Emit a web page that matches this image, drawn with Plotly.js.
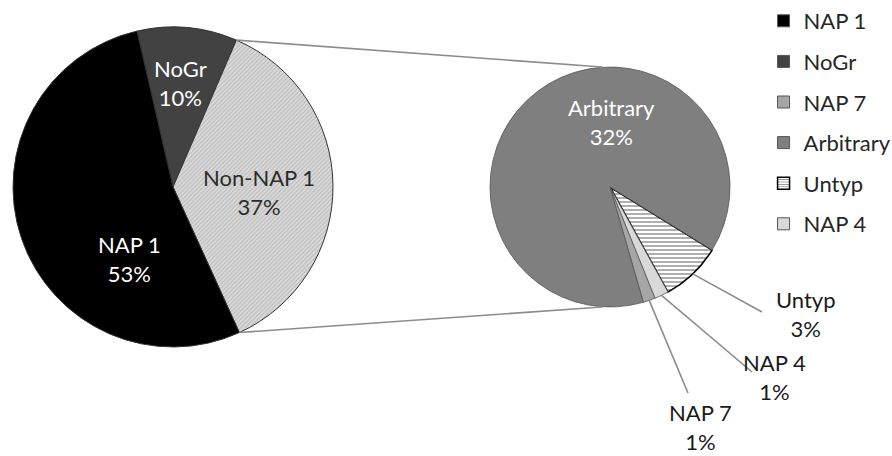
<!DOCTYPE html>
<html><head><meta charset="utf-8">
<script src="https://cdn.plot.ly/plotly-3.0.1.min.js"></script>
<style>html,body{margin:0;padding:0;background:#fff}</style>
</head><body><div id="chart" style="width:892px;height:456px"></div>
<script>
// ---- data ----
const mainLabels = ['NoGr', 'Non-NAP 1', 'NAP 1'];
const mainValues = [10.1, 36.7, 53.2];
const subLabels = ['Untyp', 'NAP 4', 'NAP 7', 'Arbitrary'];
const subValues = [3.0, 0.7, 0.6, 32.4];
const legendLabels = ['NAP 1', 'NoGr', 'NAP 7', 'Arbitrary', 'Untyp', 'NAP 4'];

// ---- styling ----
const W = 892, H = 456;
const FONT = 'Lato, "Open Sans", sans-serif';
const fills = {
  'NAP 1': '#000000', 'NoGr': '#424242', 'Non-NAP 1': '#d6d6d6',
  'NAP 7': '#a6a6a6', 'Arbitrary': '#7f7f7f', 'Untyp': '#ffffff', 'NAP 4': '#d9d9d9'
};
const patterns = { 'Non-NAP 1': '/', 'Untyp': '-' };
const patFg = { 'Non-NAP 1': '#b4b4b4', 'Untyp': '#8c8c8c' };
const patBg = { 'Non-NAP 1': '#dadada', 'Untyp': '#ffffff' };
const outline = { 'Untyp': '#000000' };

// pie geometry in pixels
const mainPie = { cx: 173, cy: 187, r: 160, rotation: -13 };
const subPie = { cx: 610, cy: 187, r: 120, rotation: 121.7 };

function domainOf(p) {
  return { x: [(p.cx - p.r) / W, (p.cx + p.r) / W], y: [1 - (p.cy + p.r) / H, 1 - (p.cy - p.r) / H] };
}
function px(x) { return x / W; }
function py(y) { return 1 - y / H; }
function pt(p, angDeg, rf) {
  const a = angDeg * Math.PI / 180;
  return [p.cx + p.r * rf * Math.sin(a), p.cy - p.r * rf * Math.cos(a)];
}
function sliceAngles(p, values) {
  const tot = values.reduce((a, b) => a + b, 0);
  let cur = p.rotation;
  return values.map(v => { const s = cur; cur += v / tot * 360; return [s, cur]; });
}

const total = mainValues.reduce((a, b) => a + b, 0);
const pct = v => Math.round(v / total * 100) + '%';

function markerFor(labels, lineCol, lineW) {
  return {
    colors: labels.map(l => fills[l]),
    line: { color: labels.map(l => outline[l] || lineCol), width: labels.map(l => outline[l] ? 1.6 : lineW) },
    pattern: {
      shape: labels.map(l => patterns[l] || ''),
      fgcolor: labels.map(l => patFg[l] || '#000000'),
      bgcolor: labels.map(l => patBg[l] || fills[l]),
      size: labels.map(l => l === 'Untyp' ? 4 : 3),
      solidity: labels.map(l => l === 'Untyp' ? 0.35 : 0.3)
    }
  };
}

const traces = [
  {
    type: 'pie', labels: mainLabels, values: mainValues, sort: false, direction: 'clockwise',
    rotation: mainPie.rotation, domain: domainOf(mainPie), textinfo: 'none', hoverinfo: 'skip',
    showlegend: false, marker: markerFor(mainLabels, '#333333', 1)
  },
  {
    type: 'pie', labels: subLabels, values: subValues, sort: false, direction: 'clockwise',
    rotation: subPie.rotation, domain: domainOf(subPie), textinfo: 'none', hoverinfo: 'skip',
    showlegend: false, marker: markerFor(subLabels, '#555555', 0.8)
  }
];
// legend entries (bars kept outside the hidden axis range; used only for legend keys)
legendLabels.forEach((name, i) => {
  const m = {
    color: fills[name],
    line: { color: outline[name] || '#555555', width: outline[name] ? 1.5 : 1 }
  };
  if (patterns[name]) m.pattern = { shape: patterns[name], fgcolor: patFg[name], bgcolor: patBg[name], size: 3, solidity: 0.35 };
  traces.push({
    type: 'bar', x: [0], y: [1], name: name, legendgroup: 'g' + i, hoverinfo: 'skip', marker: m
  });
});

// connector lines between pies
const mainAng = sliceAngles(mainPie, mainValues);
const split = mainAng[mainLabels.indexOf('Non-NAP 1')];
const pA = pt(mainPie, split[0], 1), pB = pt(mainPie, split[1], 1);
const lineStyle = { color: '#8c8c8c', width: 1.6 };
const shapes = [
  { type: 'line', xref: 'paper', yref: 'paper', x0: px(pA[0]), y0: py(pA[1]), x1: px(subPie.cx - 8), y1: py(subPie.cy - subPie.r), line: lineStyle },
  { type: 'line', xref: 'paper', yref: 'paper', x0: px(pB[0]), y0: py(pB[1]), x1: px(subPie.cx - 8), y1: py(subPie.cy + subPie.r), line: lineStyle }
];

// label placement (offsets from pie centre, px)
const insidePos = {
  'NoGr': [mainPie, 7, -104, '#ffffff'],
  'Non-NAP 1': [mainPie, 86, 5, '#2b2b2b'],
  'NAP 1': [mainPie, -44, 72, '#ffffff'],
  'Arbitrary': [subPie, 1, -65, '#ffffff']
};
const outsidePos = {
  'Untyp': { label: [196, 127], end: [152, 125] },
  'NAP 4': { label: [164, 190], end: [142, 185] },
  'NAP 7': { label: [90, 240], end: [78, 206] }
};
const valueOf = {};
mainLabels.forEach((l, i) => valueOf[l] = mainValues[i]);
subLabels.forEach((l, i) => valueOf[l] = subValues[i]);

const annotations = [];
Object.keys(insidePos).forEach(l => {
  const [p, dx, dy, col] = insidePos[l];
  annotations.push({
    xref: 'paper', yref: 'paper', x: px(p.cx + dx), y: py(p.cy + dy), xanchor: 'center', yanchor: 'middle',
    text: l + '<br>' + pct(valueOf[l]), showarrow: false, font: { family: FONT, size: 22, color: col }
  });
});
const subAng = sliceAngles(subPie, subValues);
Object.keys(outsidePos).forEach(l => {
  const o = outsidePos[l];
  const a = subAng[subLabels.indexOf(l)];
  const s = pt(subPie, (a[0] + a[1]) / 2, 1.0);
  shapes.push({ type: 'line', xref: 'paper', yref: 'paper', x0: px(s[0]), y0: py(s[1]),
    x1: px(subPie.cx + o.end[0]), y1: py(subPie.cy + o.end[1]), line: lineStyle });
  annotations.push({
    xref: 'paper', yref: 'paper', x: px(subPie.cx + o.label[0]), y: py(subPie.cy + o.label[1]),
    xanchor: 'center', yanchor: 'middle', text: l + '<br>' + pct(valueOf[l]), showarrow: false,
    font: { family: FONT, size: 22, color: '#1a1a1a' }
  });
});

const layout = {
  width: W, height: H,
  margin: { l: 0, r: 0, t: 0, b: 0, autoexpand: false },
  paper_bgcolor: '#ffffff', plot_bgcolor: '#ffffff',
  xaxis: { visible: false, fixedrange: true, range: [5, 6] },
  yaxis: { visible: false, fixedrange: true, range: [5, 6] },
  showlegend: true,
  legend: {
    x: 0.856, y: 1.0, xanchor: 'left', yanchor: 'top', traceorder: 'grouped', tracegroupgap: 9,
    font: { family: FONT, size: 22, color: '#262626' }, bgcolor: 'rgba(0,0,0,0)', borderwidth: 0
  },
  font: { family: FONT },
  shapes: shapes, annotations: annotations, hovermode: false
};
Plotly.newPlot('chart', traces, layout, { displayModeBar: false, staticPlot: true });
</script>
</body></html>
